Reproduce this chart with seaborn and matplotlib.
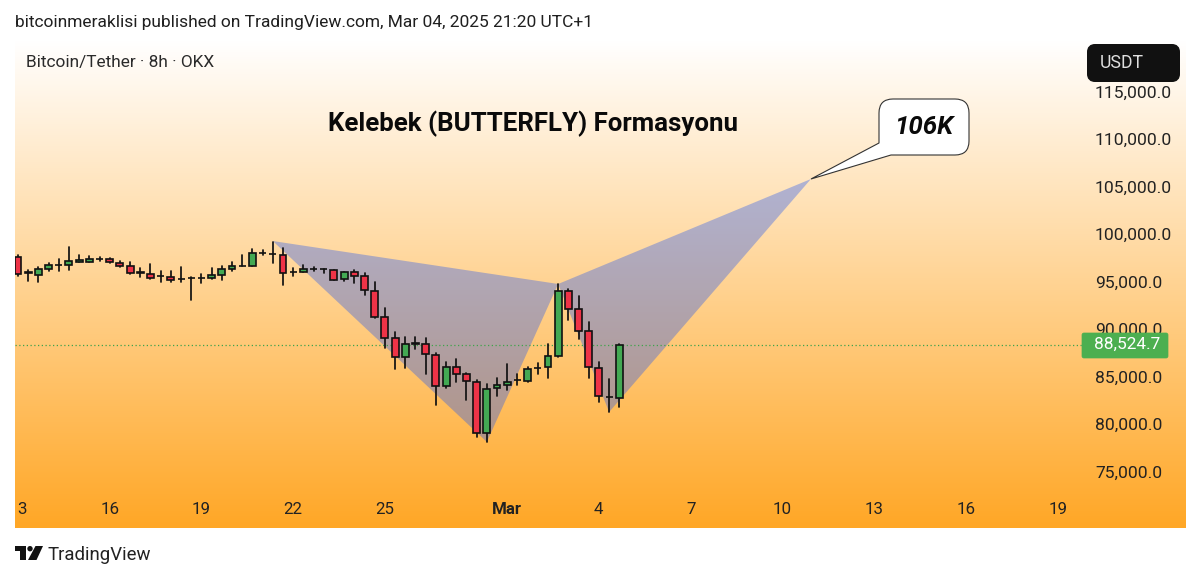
import numpy as np
import pandas as pd
import matplotlib
matplotlib.use("Agg")
import matplotlib.pyplot as plt
from matplotlib.patches import FancyBboxPatch, Polygon, Circle
from matplotlib.path import Path
from matplotlib.patches import PathPatch
from matplotlib.colors import LinearSegmentedColormap
from matplotlib.transforms import ScaledTranslation
import seaborn as sns

opens = [97760,96160,95930,96530,96960,96920,97300,97300,97630,97550,97190,96810,96160,96000,95780,95680,95490,95630,95630,95610,95930,96560,96890,96870,98260,98150,98000,96200,96240,96540,96510,96390,95440,96210,95760,94240,91440,89230,87230,88720,88660,87500,84240,86240,85440,84660,79230,83960,84320,84830,84770,86150,86210,87370,94210,92280,89970,86140,83100,82980]
highs = [97970,96420,96770,97190,97550,98810,97970,97860,97790,97680,97370,97230,96600,97050,96350,96280,96700,95640,95970,96660,96810,97290,97970,98630,98560,99400,98700,96600,96920,96740,96530,96420,96210,96420,96140,95130,92450,89930,89400,89370,89230,87720,86700,87020,85610,84840,84390,85080,86530,85470,86180,86600,88630,94950,94390,93680,90950,86770,84950,88600]
lows = [95820,95300,95190,96320,96280,96450,97230,97230,97340,97160,96700,96030,95720,95500,95190,95190,95130,93250,95020,95470,95400,96350,96810,96810,97970,97130,94790,95760,96180,96320,96070,95370,95250,95050,93790,91340,88210,86000,86140,88100,85440,82210,84030,84600,82740,78870,78280,83190,83790,84350,84660,85470,85020,87300,91130,89130,85080,82500,81500,82030]
closes = [96000,96120,96530,96920,96930,97400,97440,97580,97590,97230,96870,96070,96120,95610,95740,95400,95450,95590,95590,95890,96560,96840,96860,98180,98220,98120,96140,96160,96500,96510,96480,95400,96180,95820,94280,91470,89260,87230,88600,88680,87550,84240,86240,85500,84700,79230,83930,84280,84660,84790,86000,86120,87340,94180,92320,90030,86210,83190,83070,88524.7]

pattern_idx = [25, 46, 53, 58, 77.8]
pattern_price = [99470, 78320, 94950, 81470, 106000]
last_price = 88524.7

y_ticks = [75000, 80000, 85000, 90000, 95000, 100000, 105000, 110000, 115000]
y_labels = ["75,000.0", "80,000.0", "85,000.0", "90,000.0", "95,000.0", "100,000.0", "105,000.0", "110,000.0", "115,000.0"]
x_ticks = [0.4, 9, 18, 27, 36, 48, 56.9, 66, 75, 84, 93, 102]
x_labels = ["3", "16", "19", "22", "25", "Mar", "4", "7", "10", "13", "16", "19"]

header = "bitcoinmeraklisi published on TradingView.com, Mar 04, 2025 21:20 UTC+1"
legend_text = "Bitcoin/Tether · 8h · OKX"
title_text = "Kelebek (BUTTERFLY) Formasyonu"

UP = "#43A953"
DOWN = "#EE3347"
FILL = "#2458F0"
INK = "#1f1f1f"

sns.set_theme(style="white", rc={"axes.grid": False})
plt.rcParams["font.family"] = ["Roboto", "DejaVu Sans"]

W, H = 1200, 579
fig = plt.figure(figsize=(W / 100, H / 100), dpi=100, facecolor="white")
L, R, T, B = 15, 1186, 40, 528
ax = fig.add_axes([L / W, 1 - B / H, (R - L) / W, (B - T) / H])

grad = LinearSegmentedColormap.from_list("bg", ["#FFFFFF", "#FFA726"])
ax.imshow(np.linspace(0, 1, 256).reshape(-1, 1), cmap=grad, extent=[0, 1, 0, 1],
          transform=ax.transAxes, aspect="auto", zorder=0)
ax.set_xlim(-0.294, 114.6)
ax.set_ylim(69263, 120632)

# harmonic pattern triangles
for tri in ([0, 1, 2], [2, 3, 4]):
    ax.fill([pattern_idx[i] for i in tri], [pattern_price[i] for i in tri],
            color=FILL, alpha=0.36, lw=0, zorder=1)

# last-price dotted line
line_df = pd.DataFrame({"i": [-0.294, 104.4], "p": [last_price, last_price]})
sns.lineplot(data=line_df, x="i", y="p", ax=ax, color="#3FA34D", lw=0.9,
             linestyle=(0, (1, 2)), zorder=2, legend=False)

# wicks
n = len(opens)
wick_df = pd.DataFrame({
    "i": np.repeat(np.arange(n), 2),
    "p": np.column_stack([lows, highs]).ravel(),
    "u": np.repeat(np.arange(n), 2),
})
sns.lineplot(data=wick_df, x="i", y="p", units="u", estimator=None, sort=False, ax=ax,
             color="#111111", lw=1.25, zorder=3, legend=False)

# bodies
opn, cls = np.array(opens), np.array(closes)
colors = [UP if c >= o else DOWN for o, c in zip(opn, cls)]
ax.bar(np.arange(n), cls - opn, bottom=opn, width=0.68, color=colors,
       edgecolor="#111111", linewidth=1.2, zorder=4)

ax.set_xlim(-0.294, 114.6)
ax.set_ylim(69263, 120632)
ax.set_xticks(x_ticks)
ax.set_xticklabels(x_labels, fontsize=12.2, color="#222222")
ax.set_yticks(y_ticks)
ax.set_yticklabels(y_labels, fontsize=12.6, color="#222222")
ax.yaxis.tick_right()
ax.tick_params(axis="y", length=0, pad=-65.5)
ax.tick_params(axis="x", length=0, pad=-18.5)
shift_up = ScaledTranslation(0, 2 / 100, fig.dpi_scale_trans)
for lab in ax.get_yticklabels():
    lab.set_ha("left")
    lab.set_zorder(5)
    lab.set_transform(lab.get_transform() + shift_up)
ax.get_xticklabels()[x_labels.index("Mar")].set_fontweight("bold")
ax.set_xlabel("")
ax.set_ylabel("")
for s in ax.spines.values():
    s.set_visible(False)

# overlay in pixel coordinates for the page furniture
ov = fig.add_axes([0, 0, 1, 1], facecolor="none")
ov.set_xlim(0, W)
ov.set_ylim(H, 0)
ov.axis("off")

ov.text(15, 22.5, header, fontsize=12.47, color=INK, va="center", ha="left")
ov.text(26, 62, legend_text, fontsize=12.45, color="#2a2a2a", va="center", ha="left")
ov.text(532.5, 124, title_text, fontsize=18.6, fontweight="bold", color="#0a0a0a", va="center", ha="center")

# callout
bx0, bx1, by0, by1, r = 879, 969, 99, 155, 14
tip = (811, 179)
verts = [(bx0 + r, by0), (bx1 - r, by0), (bx1, by0), (bx1, by0 + r), (bx1, by1 - r), (bx1, by1), (bx1 - r, by1),
         (891, by1), tip, (bx0, 143), (bx0, by0 + r), (bx0, by0), (bx0 + r, by0), (bx0 + r, by0)]
codes = [Path.MOVETO, Path.LINETO, Path.CURVE3, Path.CURVE3, Path.LINETO, Path.CURVE3, Path.CURVE3,
         Path.LINETO, Path.LINETO, Path.LINETO, Path.LINETO, Path.CURVE3, Path.CURVE3, Path.CLOSEPOLY]
ov.add_patch(PathPatch(Path(verts, codes), facecolor="white", edgecolor="#333333", lw=0.8))
ov.text(924, 126.5, "106K", fontsize=18.6, fontweight="bold", fontstyle="italic", color="#0a0a0a", va="center", ha="center")

# USDT badge
ov.add_patch(FancyBboxPatch((1091, 48), 85, 30, boxstyle="round,pad=0,rounding_size=4", facecolor="#111111",
                            edgecolor="#111111", lw=8 * 0.72))
ov.text(1100, 63.5, "USDT", fontsize=12.7, color="#e0e0e0", va="center", ha="left")

# last price badge
ov.add_patch(FancyBboxPatch((1082, 333), 86, 25, boxstyle="round,pad=0,rounding_size=2", facecolor="#4CAF50",
                            edgecolor="#4CAF50", lw=0.5))
ov.text(1127, 344.5, "88,524.7", fontsize=12.4, color="white", va="center", ha="center")

# TradingView mark
ov.add_patch(Polygon([(15, 546), (26, 546), (26, 560), (20, 560), (20, 551), (15, 551)], facecolor="#111111", lw=0))
ov.add_patch(Circle((30, 548.7), 2.7, facecolor="#111111", lw=0))
ov.add_patch(Polygon([(35.5, 546), (43, 546), (36.5, 560), (28, 560)], facecolor="#111111", lw=0))
ov.text(48, 555, "TradingView", fontsize=13.4, color="#222222", va="center", ha="left")

fig.savefig("out.png", dpi=100, facecolor="white")
